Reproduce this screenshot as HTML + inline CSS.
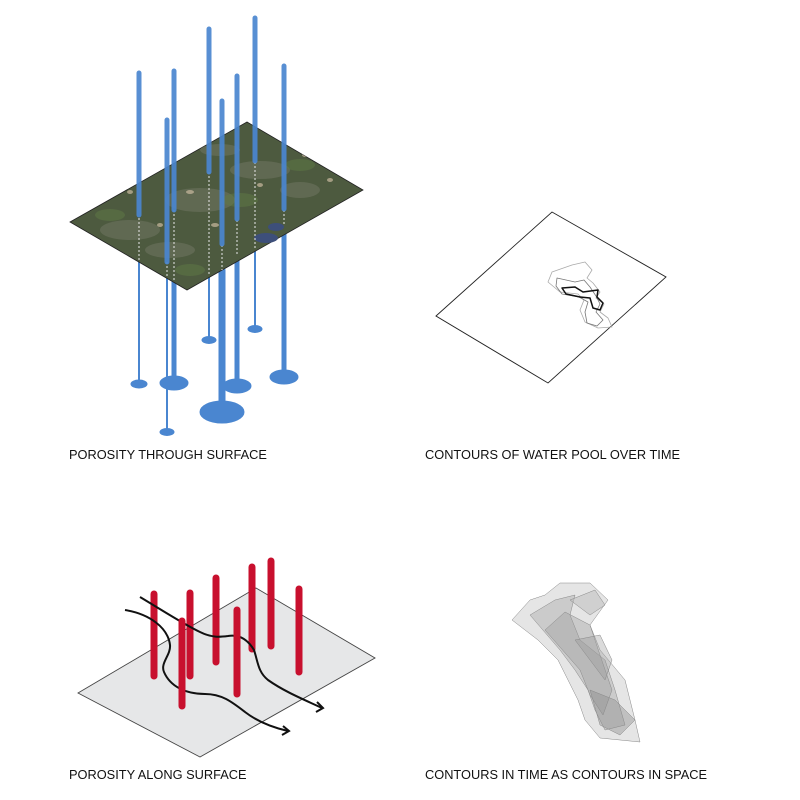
<!DOCTYPE html>
<html><head><style>
html,body{margin:0;padding:0;background:#fff;}
svg{display:block}
text{font-family:"Liberation Sans",sans-serif;font-size:12.8px;fill:#111;}
</style></head><body>
<svg width="800" height="800" viewBox="0 0 800 800" xmlns="http://www.w3.org/2000/svg">
<defs>
<clipPath id="gc"><polygon points="70,222 247,122 363,190 187,290"/></clipPath>
</defs>
<g fill="#4a86d0" stroke="#4a86d0" stroke-linecap="round">
 <ellipse cx="139" cy="384" rx="8" ry="4"/>
 <ellipse cx="174" cy="383" rx="14" ry="7"/>
 <ellipse cx="167" cy="432" rx="7" ry="3.5"/>
 <ellipse cx="209" cy="340" rx="7" ry="3.5"/>
 <ellipse cx="222" cy="412" rx="22" ry="11"/>
 <ellipse cx="237" cy="386" rx="14" ry="7"/>
 <ellipse cx="255" cy="329" rx="7" ry="3.5"/>
 <ellipse cx="284" cy="377" rx="14" ry="7"/>
 <line x1="139" y1="260" x2="139" y2="384" stroke-width="2"/>
 <line x1="174" y1="280" x2="174" y2="383" stroke-width="5"/>
 <line x1="167" y1="275" x2="167" y2="432" stroke-width="2"/>
 <line x1="209" y1="275" x2="209" y2="340" stroke-width="2"/>
 <line x1="222" y1="270" x2="222" y2="412" stroke-width="7"/>
 <line x1="237" y1="255" x2="237" y2="386" stroke-width="5"/>
 <line x1="255" y1="250" x2="255" y2="329" stroke-width="2"/>
 <line x1="284" y1="225" x2="284" y2="377" stroke-width="5"/>
</g>
<polygon points="70,222 247,122 363,190 187,290" fill="#4d5a3f" stroke="#222" stroke-width="0.8"/>
<g clip-path="url(#gc)" fill="#7d7f70" opacity="0.4">
 <ellipse cx="130" cy="230" rx="30" ry="10"/>
 <ellipse cx="200" cy="200" rx="35" ry="12"/>
 <ellipse cx="260" cy="170" rx="30" ry="9"/>
 <ellipse cx="170" cy="250" rx="25" ry="8"/>
 <ellipse cx="300" cy="190" rx="20" ry="8"/>
 <ellipse cx="220" cy="150" rx="20" ry="6"/>
</g>
<g clip-path="url(#gc)" fill="#5f7a45" opacity="0.5">
 <ellipse cx="110" cy="215" rx="15" ry="6"/><ellipse cx="240" cy="200" rx="18" ry="7"/>
 <ellipse cx="300" cy="165" rx="15" ry="6"/><ellipse cx="190" cy="270" rx="15" ry="6"/>
</g>
<g clip-path="url(#gc)" fill="#c9b9a0" opacity="0.7">
 <ellipse cx="190" cy="192" rx="4" ry="2"/><ellipse cx="130" cy="192" rx="3" ry="2"/>
 <ellipse cx="215" cy="225" rx="4" ry="2"/><ellipse cx="260" cy="185" rx="3" ry="2"/>
 <ellipse cx="305" cy="155" rx="3" ry="2"/><ellipse cx="330" cy="180" rx="3" ry="2"/>
 <ellipse cx="160" cy="225" rx="3" ry="2"/>
</g>
<ellipse cx="266" cy="238" rx="12" ry="5" fill="#3d4f7a"/>
<ellipse cx="276" cy="227" rx="8" ry="4" fill="#3d4f7a"/>
<g stroke="#e8e8e8" stroke-width="1" stroke-dasharray="2,2">
 <line x1="139" y1="218" x2="139" y2="262"/>
 <line x1="174" y1="210" x2="174" y2="280"/>
 <line x1="167" y1="262" x2="167" y2="278"/>
 <line x1="209" y1="172" x2="209" y2="276"/>
 <line x1="222" y1="245" x2="222" y2="270"/>
 <line x1="237" y1="220" x2="237" y2="256"/>
 <line x1="255" y1="162" x2="255" y2="250"/>
 <line x1="284" y1="210" x2="284" y2="226"/>
</g>
<g stroke="#4a86d0" stroke-linecap="round" stroke-width="5" opacity="0.92">
 <line x1="139" y1="73" x2="139" y2="215"/>
 <line x1="174" y1="71" x2="174" y2="210"/>
 <line x1="167" y1="120" x2="167" y2="262"/>
 <line x1="209" y1="29" x2="209" y2="172"/>
 <line x1="222" y1="101" x2="222" y2="244"/>
 <line x1="237" y1="76" x2="237" y2="219"/>
 <line x1="255" y1="18" x2="255" y2="161"/>
 <line x1="284" y1="66" x2="284" y2="209"/>
</g>
<text x="69" y="459">POROSITY THROUGH SURFACE</text>

<polygon points="436,316 552,212 666,277 548,383" fill="#fff" stroke="#222" stroke-width="0.9"/>
<g fill="none" stroke-linejoin="round">
 <path d="M572,265 L585,262 L592,270 L587,278 L593,283 L600,292 L596,298 L604,304 L600,312 L608,318 L612,327 L598,328 L585,322 L580,310 L584,300 L578,294 L560,292 L548,282 L552,272 Z" stroke="#aaa" stroke-width="0.8"/>
 <path d="M557,278 L575,282 L584,280 L590,287 L596,296 L600,304 L596,312 L603,320 L597,326 L587,323 L585,312 L588,302 L579,297 L562,294 L556,286 Z" stroke="#777" stroke-width="0.8"/>
 <path d="M562,288 L575,287 L583,292 L598,290 L597,297 L603,303 L600,310 L593,308 L590,298 L580,297 L566,294 Z" stroke="#111" stroke-width="1.5"/>
</g>
<text x="425" y="459">CONTOURS OF WATER POOL OVER TIME</text>

<polygon points="78,693 256,588 375,658 200,757" fill="#e6e7e8" stroke="#444" stroke-width="0.9"/>
<g stroke="#c8102e" stroke-width="7" stroke-linecap="round">
 <line x1="154" y1="594" x2="154" y2="676"/>
 <line x1="190" y1="593" x2="190" y2="676"/>
 <line x1="216" y1="578" x2="216" y2="662"/>
 <line x1="252" y1="567" x2="252" y2="649"/>
 <line x1="271" y1="561" x2="271" y2="646"/>
 <line x1="299" y1="589" x2="299" y2="672"/>
</g>
<g fill="none" stroke="#111" stroke-width="2">
 <path d="M140,597 C165,612 185,625 200,632 C212,638 220,637 228,636 C240,634 248,640 254,650 C258,662 258,672 268,680 C285,692 305,700 322,708"/>
 <path d="M125,610 C150,614 168,628 170,645 C171,655 160,663 164,672 C170,686 185,694 205,694 C222,694 232,702 245,712 C258,722 275,728 288,731"/>
 <path d="M317,702 L323,708 L316,712" />
 <path d="M283,726 L289,731 L282,735" />
</g>
<g stroke="#c8102e" stroke-width="7" stroke-linecap="round">
 <line x1="182" y1="621" x2="182" y2="706"/>
 <line x1="237" y1="610" x2="237" y2="694"/>
</g>
<text x="69" y="779">POROSITY ALONG SURFACE</text>

<g stroke="#888" stroke-width="0.5">
 <path d="M512,620 L530,600 L545,595 L560,583 L590,583 L608,600 L590,625 L600,650 L625,680 L635,720 L640,742 L600,738 L585,720 L578,700 L568,680 L558,660 L538,640 Z" fill="#d4d4d4" fill-opacity="0.6"/>
 <path d="M530,615 L555,600 L575,595 L570,615 L580,640 L605,660 L615,690 L625,725 L605,730 L595,710 L588,690 L575,670 L560,650 Z" fill="#aaa" fill-opacity="0.45"/>
 <path d="M545,630 L565,612 L590,625 L600,655 L612,690 L603,715 L590,695 L580,670 Z" fill="#999" fill-opacity="0.35"/>
 <path d="M570,600 L595,590 L605,605 L590,615 Z" fill="#bbb" fill-opacity="0.5"/>
 <path d="M590,690 L615,700 L635,720 L620,735 L600,725 Z" fill="#8a8a8a" fill-opacity="0.4"/>
 <path d="M575,640 L600,635 L612,660 L605,680 Z" fill="#999" fill-opacity="0.35"/>
</g>
<text x="425" y="779">CONTOURS IN TIME AS CONTOURS IN SPACE</text>
</svg>
</body></html>
